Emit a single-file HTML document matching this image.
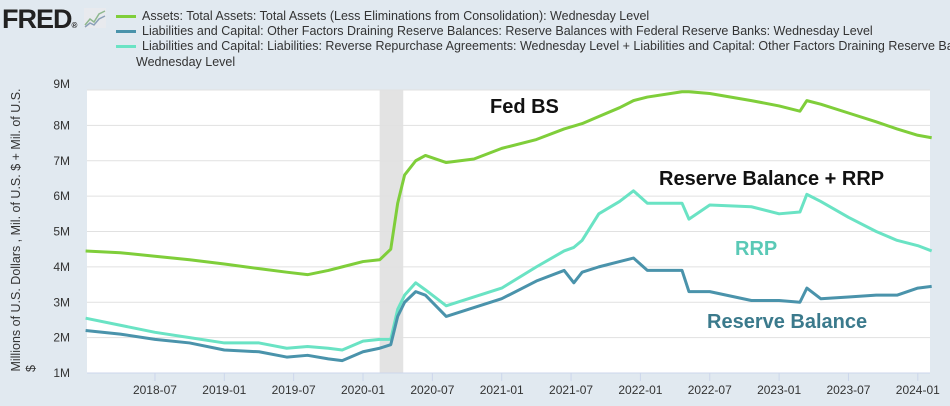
<!DOCTYPE html>
<html><head><meta charset="utf-8">
<style>
body{margin:0;background:#e1e9f0;font-family:"Liberation Sans",sans-serif;}
#wrap{position:relative;width:950px;height:406px;overflow:hidden;background:#e1e9f0;}
.leg{position:absolute;left:116px;font-size:12.5px;color:#333;white-space:nowrap;}
.sw{display:inline-block;width:20px;height:3px;vertical-align:middle;margin-right:6px;}
</style></head><body>
<div id="wrap">
<div style="position:absolute;left:2px;top:4px;font-weight:bold;font-size:27px;color:#222;letter-spacing:-1px;">FRED<span style="font-size:8px">®</span></div>
<svg style="position:absolute;left:84px;top:8px" width="22" height="20"><rect width="22" height="20" fill="#e8eaee"/><polyline points="1,17 6,11 10,14 15,6 21,3" fill="none" stroke="#8fb88f" stroke-width="1.5"/><polyline points="1,19 6,15 10,17 15,11 21,8" fill="none" stroke="#8aa0b8" stroke-width="1.5"/></svg>
<div class="leg" style="top:9px"><span class="sw" style="background:#7fce3a"></span>Assets: Total Assets: Total Assets (Less Eliminations from Consolidation): Wednesday Level</div>
<div class="leg" style="top:24px"><span class="sw" style="background:#4a93ab"></span>Liabilities and Capital: Other Factors Draining Reserve Balances: Reserve Balances with Federal Reserve Banks: Wednesday Level</div>
<div class="leg" style="top:39px"><span class="sw" style="background:#6ae3c4"></span>Liabilities and Capital: Liabilities: Reverse Repurchase Agreements: Wednesday Level + Liabilities and Capital: Other Factors Draining Reserve Balances: Reserve Balances with Federal Reserve Banks:</div>
<div class="leg" style="top:55px;left:136px">Wednesday Level</div>
<svg id="chart" width="950" height="406" style="position:absolute;left:0;top:0"></svg>
</div>
<script>
const years=[2018.0,2018.25,2018.5,2018.75,2019.0,2019.25,2019.45,2019.6,2019.75,2019.85,2020.0,2020.12,2020.2,2020.25,2020.3,2020.38,2020.45,2020.6,2020.8,2021.0,2021.25,2021.45,2021.52,2021.58,2021.7,2021.85,2021.95,2022.05,2022.3,2022.35,2022.5,2022.8,2023.0,2023.15,2023.2,2023.3,2023.5,2023.7,2023.85,2024.0,2024.1];
const totalAssets=[4.45,4.4,4.3,4.2,4.08,3.95,3.85,3.78,3.9,4.0,4.15,4.2,4.5,5.8,6.6,7.0,7.15,6.95,7.05,7.35,7.6,7.9,7.98,8.05,8.25,8.5,8.7,8.8,8.95,8.95,8.9,8.7,8.55,8.4,8.7,8.6,8.35,8.1,7.9,7.72,7.65];
const reserves=[2.2,2.1,1.95,1.85,1.65,1.6,1.45,1.5,1.4,1.35,1.6,1.7,1.8,2.6,3.0,3.3,3.2,2.6,2.85,3.1,3.6,3.9,3.55,3.85,4.0,4.15,4.25,3.9,3.9,3.3,3.3,3.05,3.05,3.0,3.4,3.1,3.15,3.2,3.2,3.4,3.45];
const rsvPlusRrp=[2.55,2.35,2.15,2.0,1.85,1.85,1.7,1.75,1.7,1.65,1.9,1.95,1.95,2.8,3.2,3.55,3.35,2.9,3.15,3.4,4.0,4.45,4.55,4.75,5.5,5.85,6.15,5.8,5.8,5.35,5.75,5.7,5.5,5.55,6.05,5.85,5.4,5.0,4.75,4.6,4.45];
const yTicks=[1,2,3,4,5,6,7,8,9];
const xTickLabels=["2018-07","2019-01","2019-07","2020-01","2020-07","2021-01","2021-07","2022-01","2022-07","2023-01","2023-07","2024-01"];
const recession=[2020.12,2020.29];
const NS="http://www.w3.org/2000/svg";
const svg=document.getElementById('chart');
const L=87,R=930,T=90,B=373,x0=2018.01,pxYear=138.7;
function sx(t){return L+(t-x0)*pxYear;}
function sy(v){return B-(v-1)*(B-T)/8;}
function mk(tag,a){const e=document.createElementNS(NS,tag);for(const k in a)e.setAttribute(k,a[k]);svg.appendChild(e);return e;}
let e=mk('rect',{x:L,y:T,width:R-L,height:B-T,fill:'#fff'});

e=mk('rect',{x:sx(recession[0]),y:T,width:sx(recession[1])-sx(recession[0]),height:B-T,fill:'#e3e3e3'});

yTicks.forEach(v=>{
 const g=mk('line',{x1:L,x2:R,y1:sy(v),y2:sy(v),stroke:'#e1e1e1','stroke-width':1});
 
 const t=mk('text',{x:70,y:sy(v)+(v===9?-2:4),'text-anchor':'end','font-size':12,fill:'#333','font-family':'Liberation Sans, sans-serif'});
 t.textContent=v+'M';
});
e=mk('line',{x1:L,x2:R,y1:B,y2:B,stroke:'#ccd6eb','stroke-width':1});

xTickLabels.forEach(s=>{
 const p=s.split('-');const t=+p[0]+(+p[1]-1)/12;const X=sx(t);
 const l=mk('line',{x1:X,x2:X,y1:B,y2:B+8,stroke:'#ccd6eb'});
 
 const tx=mk('text',{x:X,y:B+21,'text-anchor':'middle','font-size':12,fill:'#333','font-family':'Liberation Sans, sans-serif'});
 tx.textContent=s;
});
function line(vals,col,name){
 const p=mk('polyline',{points:vals.map((v,i)=>sx(years[i])+','+sy(v)).join(' '),fill:'none',stroke:col,'stroke-width':3,'stroke-linejoin':'round'});
 
}
line(rsvPlusRrp,'#6ae3c4','series-reserves-plus-rrp');
line(reserves,'#4a93ab','series-reserve-balances');
line(totalAssets,'#7fce3a','series-total-assets');
function lab(x,y,s,c,name){const t=mk('text',{x:x,y:y,'font-size':20,'font-weight':'bold',fill:c,'font-family':'Liberation Sans, sans-serif'});t.textContent=s;
 }
lab(490,113,'Fed BS','#111','annotation-fed-bs');
lab(659,185,'Reserve Balance + RRP','#111','annotation-reserve-plus-rrp');
lab(735,255,'RRP','#5ac9b6','annotation-rrp');
lab(707,328,'Reserve Balance','#3b7a8c','annotation-reserve-balance');
let yt=mk('text',{x:0,y:0,transform:'translate(20,230) rotate(-90)','text-anchor':'middle','font-size':12.5,fill:'#333','font-family':'Liberation Sans, sans-serif'});
yt.textContent='Millions of U.S. Dollars , Mil. of U.S. $ + Mil. of U.S.';

yt=mk('text',{x:0,y:0,transform:'translate(35,372) rotate(-90)','text-anchor':'start','font-size':12.5,fill:'#333','font-family':'Liberation Sans, sans-serif'});
yt.textContent='$';

</script>
</body></html>
